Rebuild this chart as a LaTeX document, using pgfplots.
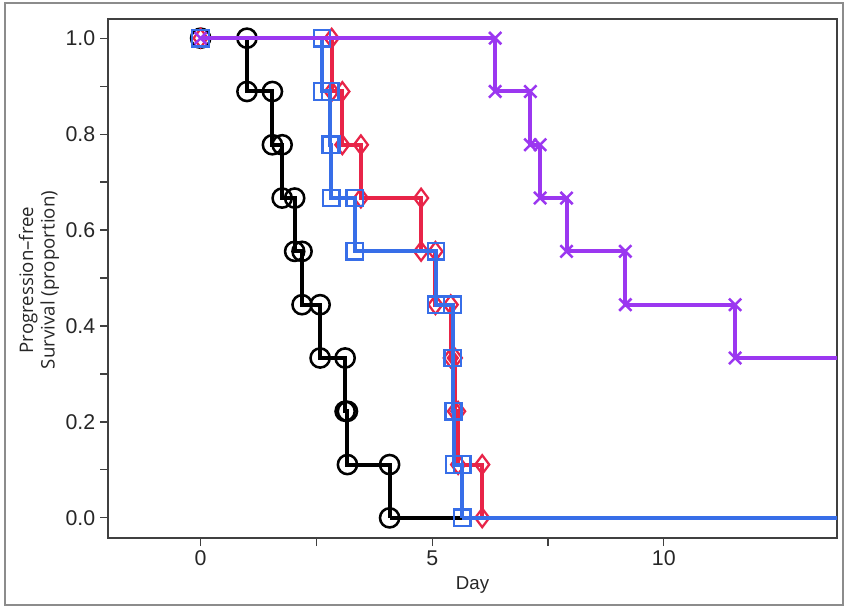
\documentclass[border=0pt]{standalone}
\usepackage{pgfplots}
\pgfplotsset{compat=1.18}
\usepackage{fontspec}
\setmainfont{Liberation Sans}
\newfontfamily\labfont{Open Sans}
\definecolor{kmred}{RGB}{232,36,72}
\definecolor{kmblue}{RGB}{55,110,232}
\definecolor{kmpurple}{RGB}{155,55,240}
\begin{document}
\begin{tikzpicture}
\useasboundingbox (-81pt,-52.5pt) rectangle (553.5pt,403.5pt);
\draw[line width=1.8pt, color=black!45] (-77.25pt,-50.25pt) rectangle (551.25pt,401.25pt);
\begin{axis}[
  at={(0pt,0pt)}, anchor=south west,
  scale only axis, width=546.75pt, height=389.25pt,
  xmin=-2, xmax=13.74, ymin=-0.042, ymax=1.04,
  axis line style={black!75, line width=0.9pt},
  xtick={0,5,10}, ytick={0,0.2,0.4,0.6,0.8,1.0},
  minor x tick num=1, minor y tick num=1,
  tick align=outside, major tick length=6pt, minor tick length=6pt,
  tick style={black!75, line width=0.9pt},
  xtick pos=bottom, ytick pos=left,
  /pgf/number format/assume math mode=true,
  yticklabel style={/pgf/number format/.cd, fixed, fixed zerofill, precision=1},
  ticklabel style={font=\fontsize{16}{19}\selectfont, text=black!85},
  xlabel={Day},
  xlabel style={font=\fontsize{14}{16}\selectfont, text=black!85, at={(axis description cs:0.5,-0.09)}, anchor=center},
  ylabel={Progression–free\\Survival (proportion)},
  ylabel style={font=\labfont\fontsize{14}{16}\selectfont, text=black!85, align=center, at={(axis description cs:-0.0947,0.497)}, anchor=center, rotate=0},
  clip mode=individual,
]
% black
\addplot[black, line width=3pt, mark=o, mark size=7.2pt, mark options={line width=1.9pt}] coordinates {
(0,1) (1.00,1) (1.00,0.8889) (1.55,0.8889) (1.55,0.7778) (1.76,0.7778) (1.76,0.6667) (2.03,0.6667) (2.03,0.5556) (2.19,0.5556) (2.19,0.4444) (2.58,0.4444) (2.58,0.3333) (3.12,0.3333) (3.12,0.2222) (3.17,0.2222) (3.17,0.1111) (4.08,0.1111) (4.08,0)};
\addplot[black, line width=3pt, no marks] coordinates {(4.08,0) (5.65,0)};
% red
\addplot[kmred, line width=3pt, mark=diamond, mark size=7pt, mark options={line width=1.7pt}] coordinates {
(0,1) (2.83,1) (2.83,0.8889) (3.06,0.8889) (3.06,0.7778) (3.46,0.7778) (3.46,0.6667) (4.76,0.6667) (4.76,0.5556) (5.07,0.5556) (5.07,0.4444) (5.40,0.4444) (5.40,0.3333) (5.49,0.3333) (5.49,0.2222) (5.56,0.2222) (5.56,0.1111) (6.08,0.1111) (6.08,0)};
% blue
\addplot[kmblue, line width=3pt, mark=square, mark size=6.2pt, mark options={line width=1.7pt}] coordinates {
(0,1) (2.62,1) (2.62,0.8889) (2.80,0.8889) (2.80,0.7778) (2.82,0.7778) (2.82,0.6667) (3.33,0.6667) (3.33,0.5556) (5.08,0.5556) (5.08,0.4444) (5.44,0.4444) (5.44,0.3333) (5.45,0.3333) (5.45,0.2222) (5.47,0.2222) (5.47,0.1111) (5.65,0.1111) (5.65,0)};
\addplot[kmblue, line width=3pt, no marks] coordinates {(5.65,0) (14,0)};
% purple
\addplot[kmpurple, line width=3pt, mark=x, mark size=6.5pt, mark options={line width=1.9pt}] coordinates {
(0,1) (6.36,1) (6.36,0.8889) (7.12,0.8889) (7.12,0.7778) (7.33,0.7778) (7.33,0.6667) (7.90,0.6667) (7.90,0.5556) (9.17,0.5556) (9.17,0.4444) (11.54,0.4444) (11.54,0.3333)};
\addplot[kmpurple, line width=3pt, no marks] coordinates {(11.54,0.3333) (14,0.3333)};
\end{axis}
\end{tikzpicture}
\end{document}
